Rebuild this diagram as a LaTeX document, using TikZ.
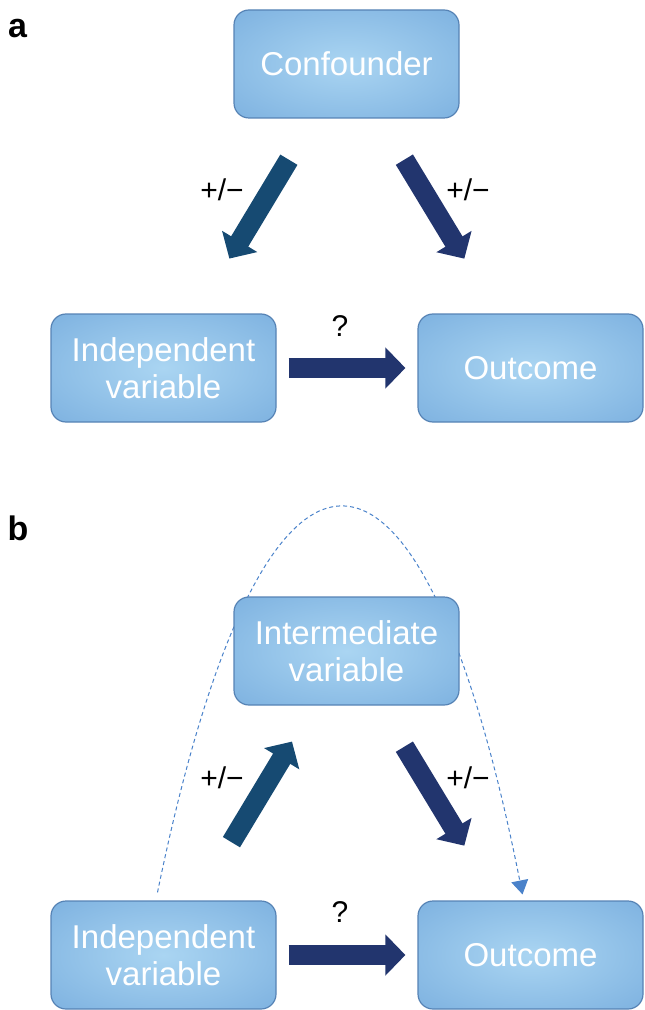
\documentclass[tikz,border=0pt]{standalone}
\usepackage{fontspec}
\setmainfont{Liberation Sans}
\usetikzlibrary{arrows.meta,backgrounds}
\definecolor{boxin}{HTML}{AAD5F2}
\definecolor{boxout}{HTML}{6AA2D8}
\definecolor{boxline}{HTML}{5683B5}
\definecolor{tealnavy}{HTML}{164A72}
\definecolor{navy}{HTML}{22356E}
\definecolor{linkblue}{HTML}{4A82CA}
\pgfdeclareradialshading{boxglow}{\pgfpointorigin}{color(0bp)=(boxin); color(52bp)=(boxout); color(75bp)=(boxout)}

\begin{document}
\begin{tikzpicture}[
  x=0.5pt, y=-0.5pt,
  block/.style={rectangle, rounded corners=7.5pt, draw=boxline, line width=0.6pt, shading=boxglow,
    minimum width=112.5pt, minimum height=54pt, align=center, text=white,
    font=\fontsize{16.5}{18.5}\selectfont},
  fatarrow/.style={-{Triangle[length=10pt,width=20pt]}, line width=10pt},
  sign/.style={font=\fontsize{15}{18}\selectfont},
  panel/.style={font=\fontsize{17}{20}\selectfont\bfseries}
]
\useasboundingbox (0,0) rectangle (644,1010);

% panel a
\node[panel] (taga) at (17.5,29) {a};
\node[block] (conf) at (346.5,64) {Confounder};
\node[block] (inda) at (163.5,368) {Independent\\variable};
\node[block] (outa) at (530.5,368) {Outcome};

\node[sign] (pmal) at (222,190) {+/−};
\node[sign] (pmar) at (468,190) {+/−};
\node[sign] (qa) at (340,326) {?};

\draw[fatarrow, tealnavy, shorten <=24pt, shorten >=32pt] (conf) -- (inda);
\draw[fatarrow, navy, shorten <=24pt, shorten >=32pt] (conf) -- (outa);
\draw[fatarrow, navy, shorten <=6pt, shorten >=6pt] (inda) -- (outa);

% panel b
\node[panel] (tagb) at (18,528.5) {b};
\node[block] (inter) at (346.5,651) {Intermediate\\variable};
\node[block] (indb) at (163.5,955) {Independent\\variable};
\node[block] (outb) at (530.5,955) {Outcome};

\node[sign] (pmbl) at (222,778) {+/−};
\node[sign] (pmbr) at (468,778) {+/−};
\node[sign] (qb) at (340,912) {?};

\draw[fatarrow, tealnavy, shorten <=34pt, shorten >=21pt] (indb) -- (inter);
\draw[fatarrow, navy, shorten <=24pt, shorten >=32pt] (inter) -- (outb);
\draw[fatarrow, navy, shorten <=6pt, shorten >=6pt] (indb) -- (outb);

% direct path, behind the intermediate box
\begin{scope}[on background layer]
\draw[linkblue, dash pattern=on 2pt off 1.5pt, line width=0.5pt, -{Triangle[length=7pt,width=8.5pt]}]
  ([xshift=-3pt,yshift=4pt]indb.north) .. controls (263,379) and (420,379) .. ([xshift=-4pt,yshift=3pt]outb.north);
\end{scope}
\end{tikzpicture}
\end{document}
